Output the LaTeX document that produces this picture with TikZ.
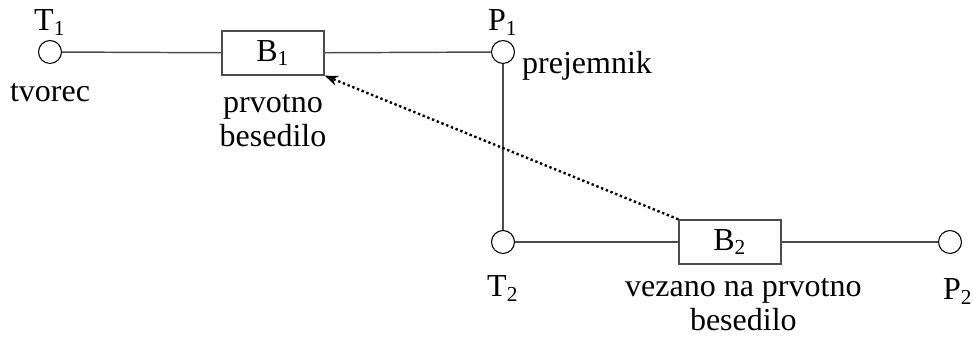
\documentclass[tikz,border=0pt]{standalone}
\usepackage{fontspec}
\setmainfont{Liberation Serif}
\usetikzlibrary{positioning, arrows.meta}

\begin{document}
\begin{tikzpicture}[x=0.375pt, y=0.375pt, font=\fontsize{12}{12.6}\selectfont,
    point/.style={circle, draw, fill=white, minimum size=8.6pt, inner sep=0pt},
    doc/.style={draw=black!70, line width=0.5pt, minimum width=38.25pt, minimum height=16.5pt, inner sep=0pt},
    lbl/.style={inner sep=1pt, align=center},
    wire/.style={draw=black!70, line width=0.55pt}]
    \useasboundingbox (0,0) rectangle (973,337);

    % Original text (top row)
    \node[point] (T1) at (50,285) {};
    \node[doc] (B1) at (273,284) {B\textsubscript{1}};
    \node[point] (P1) at (503,285) {};

    % Related text (bottom row)
    \node[point] (T2) at (503,95) {};
    \node[doc] (B2) at (730,95) {B\textsubscript{2}};
    \node[point] (P2) at (950,95) {};

    % Connections
    \draw[wire] (T1) -- (B1);
    \draw[wire] (B1) -- (P1);
    \draw[wire] (P1) -- (T2);
    \draw[wire] (T2) -- (B2);
    \draw[wire] (B2) -- (P2);

    % Labels
    \node[lbl, above=0.5pt of T1] (T1lab) {T\textsubscript{1}};
    \node[lbl, below=6pt of T1] (T1txt) {tvorec};
    \node[lbl, below=6pt of B1] (B1txt) {prvotno\\besedilo};
    \node[lbl, above=0.5pt of P1] (P1lab) {P\textsubscript{1}};
    \node[lbl, anchor=base west, xshift=1.5pt, yshift=-8pt] (P1txt) at (P1.east) {prejemnik};
    \node[lbl, below=7pt of T2] (T2lab) {T\textsubscript{2}};
    \node[lbl, below=4pt of B2, xshift=5pt] (B2txt) {vezano na prvotno\\besedilo};
    \node[lbl, below=8pt of P2, xshift=3pt] (P2lab) {P\textsubscript{2}};

    % Reference back to the original text
    \draw[densely dotted, line width=0.9pt, -{Stealth[length=5pt]}] (B2.north west) -- (B1.south east);
\end{tikzpicture}
\end{document}
